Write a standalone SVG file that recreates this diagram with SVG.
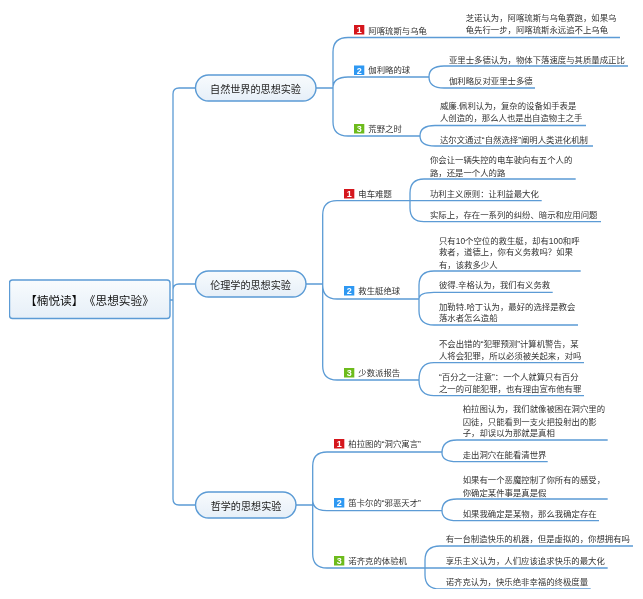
<svg xmlns="http://www.w3.org/2000/svg" width="643" height="599" viewBox="0 0 643 599">
<style>
text{font-family:"Liberation Sans","Noto Sans CJK SC",sans-serif;fill:#333;font-size:8.4px}
.box{fill:url(#g);stroke:#5b9bd5;stroke-width:1.4}
.c{fill:none;stroke:#5b9bd5;stroke-width:1.3}
.t{font-size:10.1px;text-anchor:middle;fill:#222}
.r{font-size:11.7px;fill:#111}
.n{font-family:"Liberation Sans",sans-serif;font-size:9px;font-weight:bold;fill:#fff;text-anchor:middle}
.i1{fill:#d5121b}.i2{fill:#2e98f2}.i3{fill:#6dbb1e}
</style>
<defs>
<linearGradient id="g" x1="0" y1="0" x2="0" y2="1"><stop offset="0" stop-color="#f8fbfd"/><stop offset="1" stop-color="#e6eff8"/></linearGradient>
<filter id="b" x="0" y="0" width="100%" height="100%"><feGaussianBlur stdDeviation="0.4"/></filter>
</defs>
<rect width="643" height="599" fill="#fff"/>
<g filter="url(#b)">
<g id="connectors" class="c">
<path class="c" d="M170 300H173M195.5 88H179Q173 88 173 94V499Q173 505 179 505H195.5M173 300V290Q173 284 179 284H195.5"/>
<path class="c" d="M316 88H333M348 37.5Q333 37.5 333 52V122Q333 136 348 136H420M333 88Q333 77 348 77H429M348 37.5H620"/>
<path class="c" d="M429 77Q429 66 444 66H628M429 77Q429 88 444 88H535"/>
<path class="c" d="M420 136Q420 125.5 435 125.5H586M420 136Q420 146 435 146H593"/>
<path class="c" d="M306 284H322.7M337 200.7Q322.7 200.7 322.7 215V366Q322.7 380 337 380H419M322.7 284V285Q322.7 299 337 299H419M337 200.7H541.7"/>
<path class="c" d="M425 179H424Q410 179 410 193V208Q410 221.7 424 221.7H601M425 179H575.7"/>
<path class="c" d="M434 271Q419 271 419 285V311Q419 325 434 325H578M434 271H580.7M419 299Q419 292.3 434 292.3H552.7"/>
<path class="c" d="M419 380Q419 362.7 434 362.7H584M419 380Q419 395.7 434 395.7H584"/>
<path class="c" d="M296 505H312.7M327 452Q312.7 452 312.7 466V554Q312.7 568 327 568H607.7M312.7 500Q312.7 510.7 327 510.7H442M327 452H442"/>
<path class="c" d="M442 453Q442 440 457 440H607.7M442 453Q442 461.7 457 461.7H547.7"/>
<path class="c" d="M442 510.7Q442 499 457 499H607.7M442 510.7Q442 520.7 457 520.7H599"/>
<path class="c" d="M425 568V560Q425 546 440 546H633M425 568V575Q425 589 440 589H590.7"/>
</g>
<g id="root"><rect class="box" x="9.5" y="280" width="160.5" height="38.5" rx="3"/><text class="r" x="25" y="304.5">【楠悦读】<tspan x="83.8">《思想实验》</tspan></text></g>
<g id="topic1"><rect class="box" x="195.5" y="75" width="120.5" height="26" rx="13"/><text class="t" x="255.5" y="92.5">自然世界的思想实验</text></g>
<g id="topic2"><rect class="box" x="195.5" y="271" width="110.5" height="26" rx="13"/><text class="t" x="250.5" y="288.5">伦理学的思想实验</text></g>
<g id="topic3"><rect class="box" x="195.5" y="492" width="100.5" height="26" rx="13"/><text class="t" x="246" y="509.5">哲学的思想实验</text></g>

<g id="s11"><rect class="i1" x="354" y="25" width="10.3" height="9.5"/><text class="n" x="359.2" y="33">1</text><text x="368.3" y="33.7">阿喀琉斯与乌龟</text></g>
<g id="s12"><rect class="i2" x="354" y="65.5" width="10.3" height="9.5"/><text class="n" x="359.2" y="73.5">2</text><text x="368.3" y="73.3">伽利略的球</text></g>
<g id="s13"><rect class="i3" x="354" y="124" width="10.3" height="9.5"/><text class="n" x="359.2" y="132">3</text><text x="368.3" y="132.3">荒野之时</text></g>
<g id="s21"><rect class="i1" x="344" y="189" width="10.3" height="9.5"/><text class="n" x="349.2" y="197">1</text><text x="358.3" y="196.7">电车难题</text></g>
<g id="s22"><rect class="i2" x="344" y="286" width="10.3" height="9.5"/><text class="n" x="349.2" y="294">2</text><text x="358.3" y="294">救生艇绝球</text></g>
<g id="s23"><rect class="i3" x="344" y="368" width="10.3" height="9.5"/><text class="n" x="349.2" y="376">3</text><text x="358.3" y="375.7">少数派报告</text></g>
<g id="s31"><rect class="i1" x="334" y="439" width="10.3" height="9.5"/><text class="n" x="339.2" y="447">1</text><text x="348.3" y="447.3">柏拉图的“洞穴寓言”</text></g>
<g id="s32"><rect class="i2" x="334" y="498" width="10.3" height="9.5"/><text class="n" x="339.2" y="506">2</text><text x="348.3" y="506.3">笛卡尔的“邪恶天才”</text></g>
<g id="s33"><rect class="i3" x="334" y="556" width="10.3" height="9.5"/><text class="n" x="339.2" y="564">3</text><text x="348.3" y="564">诺齐克的体验机</text></g>

<g id="l111"><text x="465.7" y="20.7">芝诺认为，阿喀琉斯与乌龟赛跑，如果乌</text><text x="465.7" y="33">龟先行一步，阿喀琉斯永远追不上乌龟</text></g>
<g id="l121"><text x="449" y="63">亚里士多德认为，物体下落速度与其质量成正比</text></g>
<g id="l122"><text x="449" y="84">伽利略反对亚里士多德</text></g>
<g id="l131"><text x="440" y="109">威廉.佩利认为，复杂的设备如手表是</text><text x="440" y="121.3">人创造的，那么人也是出自造物主之手</text></g>
<g id="l132"><text x="440" y="143">达尔文通过“自然选择”阐明人类进化机制</text></g>
<g id="l211"><text x="430" y="163">你会让一辆失控的电车驶向有五个人的</text><text x="430" y="176.3">路，还是一个人的路</text></g>
<g id="l212"><text x="430" y="196.7">功利主义原则：让利益最大化</text></g>
<g id="l213"><text x="430" y="218">实际上，存在一系列的纠纷、暗示和应用问题</text></g>
<g id="l221"><text x="439" y="244">只有10个空位的救生艇，却有100和呼</text><text x="439" y="255.3">救者，道德上，你有义务救吗？如果</text><text x="439" y="268">有，该救多少人</text></g>
<g id="l222"><text x="439" y="288.3">彼得.辛格认为，我们有义务救</text></g>
<g id="l223"><text x="439" y="309.7">加勒特.哈丁认为，最好的选择是教会</text><text x="439" y="321.3">落水者怎么造船</text></g>
<g id="l231"><text x="439" y="347">不会出错的“犯罪预测”计算机警告，某</text><text x="439" y="359">人将会犯罪，所以必须被关起来，对吗</text></g>
<g id="l232"><text x="439" y="380.3">“百分之一注意”：一个人就算只有百分</text><text x="439" y="391.7">之一的可能犯罪，也有理由宣布他有罪</text></g>
<g id="l311"><text x="462.7" y="412.3">柏拉图认为，我们就像被困在洞穴里的</text><text x="462.7" y="424.7">囚徒，只能看到一支火把投射出的影</text><text x="462.7" y="436.3">子，却误以为那就是真相</text></g>
<g id="l312"><text x="462.7" y="458">走出洞穴在能看清世界</text></g>
<g id="l321"><text x="462.7" y="483.3">如果有一个恶魔控制了你所有的感受，</text><text x="462.7" y="495.7">你确定某件事是真是假</text></g>
<g id="l322"><text x="462.7" y="516.7">如果我确定是某物，那么我确定存在</text></g>
<g id="l331"><text x="445.7" y="542.3">有一台制造快乐的机器，但是虚拟的，你想拥有吗</text></g>
<g id="l332"><text x="445.7" y="564">享乐主义认为，人们应该追求快乐的最大化</text></g>
<g id="l333"><text x="445.7" y="585">诺齐克认为，快乐绝非幸福的终极度量</text></g>
</g>
</svg>
